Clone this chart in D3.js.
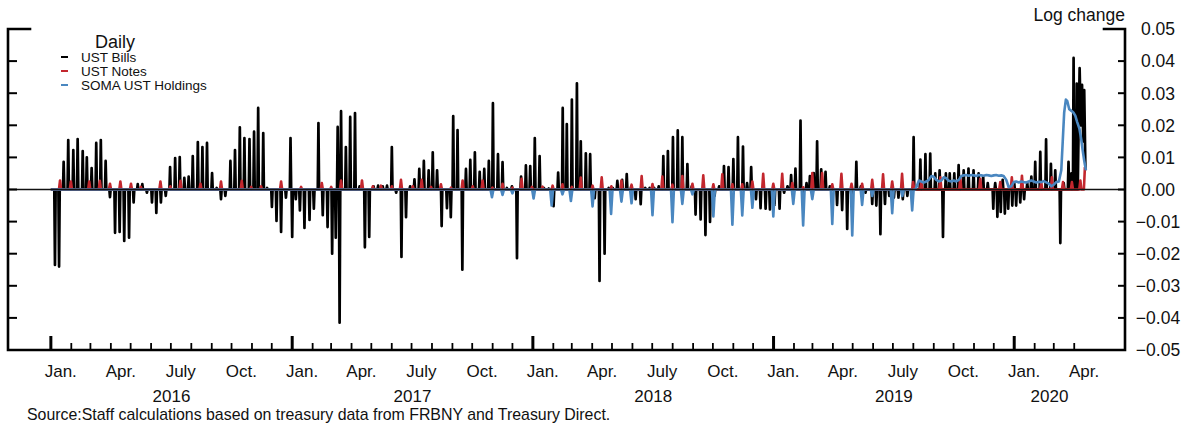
<!DOCTYPE html>
<html>
<head>
<meta charset="utf-8">
<script src="https://cdn.jsdelivr.net/npm/d3@7"></script>
<style>
  html, body { margin: 0; padding: 0; background: #fff; }
  svg { display: block; }
  text { font-family: "Liberation Sans", Arial, sans-serif; fill: #111; }
</style>
</head>
<body>
<svg id="chart" width="1190" height="425"></svg>
<script>
// ---------------- DATA (decimal-year time, daily log change) ----------------
const billsSeries = [
  [2016.017,-0.0235],[2016.034,-0.024],[2016.053,0.0086],[2016.072,0.0154],[2016.093,0.0123],
  [2016.111,0.0157],[2016.132,0.012],[2016.149,0.010],[2016.169,0.0067],[2016.188,0.0145],
  [2016.207,0.0154],[2016.227,0.0089],[2016.245,-0.0024],[2016.266,-0.0135],[2016.285,-0.0132],
  [2016.304,-0.016],[2016.324,-0.015],[2016.343,-0.004],[2016.360,0.0017],[2016.379,0.0017],
  [2016.398,-0.001],[2016.419,-0.004],[2016.437,-0.0073],[2016.456,-0.004],[2016.476,-0.002],
  [2016.494,0.007],[2016.515,0.0098],[2016.534,0.0101],[2016.553,0.0036],[2016.571,0.004],
  [2016.588,0.0104],[2016.609,0.0148],[2016.628,0.0132],[2016.647,0.0145],[2016.668,0.0051],
  [2016.687,0.0005],[2016.705,-0.003],[2016.723,-0.002],[2016.744,0.0089],[2016.763,0.0123],
  [2016.783,0.0194],[2016.802,0.016],[2016.823,0.0157],[2016.842,0.018],[2016.859,0.0254],
  [2016.880,0.0176],[2016.896,0.0005],[2016.916,-0.0054],[2016.935,-0.0098],[2016.954,-0.0132],
  [2016.974,-0.0025],[2016.993,0.016],[2017.000,-0.0148],[2017.015,-0.003],[2017.032,-0.0065],
  [2017.051,-0.012],[2017.072,-0.0095],[2017.090,-0.006],[2017.109,0.0207],[2017.127,-0.008],
  [2017.147,-0.0117],[2017.166,-0.020],[2017.181,-0.015],[2017.189,0.0195],[2017.197,-0.0415],
  [2017.203,0.0244],[2017.223,0.0132],[2017.241,0.0226],[2017.261,0.0238],[2017.280,0.001],
  [2017.302,-0.018],[2017.320,-0.0148],[2017.338,0.001],[2017.357,0.0012],[2017.376,0.001],
  [2017.394,0.0012],[2017.414,0.0132],[2017.432,-0.001],[2017.454,-0.021],[2017.473,-0.0086],
  [2017.490,0.001],[2017.508,0.0032],[2017.528,0.0064],[2017.547,0.0089],[2017.567,0.006],
  [2017.584,0.0116],[2017.602,0.006],[2017.621,-0.0114],[2017.643,-0.0058],[2017.659,-0.0086],
  [2017.669,0.0229],[2017.687,0.0185],[2017.707,-0.025],[2017.722,0.0064],[2017.740,0.0092],
  [2017.759,0.0116],[2017.779,0.0055],[2017.798,0.0064],[2017.817,0.0089],[2017.834,0.0269],
  [2017.855,0.011],[2017.874,0.0085],[2017.892,0.0005],[2017.913,0.001],[2017.934,-0.0214],
  [2017.951,0.004],[2017.971,0.0075],[2017.989,0.0073],[2018.008,0.016],[2018.028,0.0104],
  [2018.046,0.0005],[2018.066,0.0003],[2018.086,-0.0052],[2018.105,0.0053],[2018.124,0.0254],
  [2018.141,0.0204],[2018.162,0.028],[2018.183,0.0331],[2018.199,0.015],[2018.220,0.0113],
  [2018.238,0.011],[2018.257,-0.0027],[2018.277,-0.0285],[2018.298,-0.020],[2018.315,0.0005],
  [2018.332,0.0005],[2018.351,0.0027],[2018.371,0.003],[2018.390,0.0048],[2018.409,0.001],
  [2018.427,-0.003],[2018.448,-0.0046],[2018.467,0.0005],[2018.485,0.0005],[2018.504,0.0005],
  [2018.523,0.001],[2018.542,0.0104],[2018.561,0.012],[2018.582,0.0163],[2018.602,0.0184],
  [2018.621,0.0163],[2018.642,0.0079],[2018.660,0.001],[2018.676,-0.0078],[2018.697,-0.0093],
  [2018.717,-0.0142],[2018.736,-0.0101],[2018.755,-0.002],[2018.774,0.001],[2018.794,0.0073],
  [2018.813,0.007],[2018.833,0.0095],[2018.852,0.0163],[2018.873,0.0134],[2018.890,0.002],
  [2018.907,0.007],[2018.927,-0.003],[2018.946,-0.0058],[2018.967,-0.006],[2018.985,-0.0062],
  [2019.004,-0.0048],[2019.025,-0.006],[2019.044,-0.001],[2019.058,0.001],[2019.073,0.0045],
  [2019.091,0.0065],[2019.112,0.0215],[2019.122,-0.003],[2019.137,0.002],[2019.151,0.0042],
  [2019.167,0.0051],[2019.181,0.015],[2019.198,0.0063],[2019.216,0.0055],[2019.234,0.001],
  [2019.264,-0.0048],[2019.285,-0.0064],[2019.306,-0.0123],[2019.324,-0.002],[2019.344,0.0086],
  [2019.363,0.001],[2019.382,-0.001],[2019.410,-0.0045],[2019.427,-0.005],[2019.444,-0.0139],
  [2019.463,-0.0045],[2019.481,-0.002],[2019.500,-0.0025],[2019.519,-0.0025],[2019.537,-0.003],
  [2019.556,-0.002],[2019.582,0.0163],[2019.610,0.0093],[2019.631,0.011],[2019.651,0.0112],
  [2019.672,0.005],[2019.690,0.006],[2019.704,-0.0148],[2019.716,0.005],[2019.732,0.005],
  [2019.751,0.005],[2019.769,0.0076],[2019.790,0.006],[2019.810,0.0065],[2019.831,0.006],
  [2019.852,0.005],[2019.871,0.004],[2019.890,0.002],[2019.913,-0.006],[2019.921,0.002],
  [2019.930,-0.0085],[2019.944,-0.007],[2019.952,0.003],[2019.961,-0.0075],[2019.975,-0.006],
  [2019.992,-0.005],[2020.000,0.002],[2020.008,-0.005],[2020.025,-0.004],[2020.041,-0.003],
  [2020.054,0.002],[2020.071,0.004],[2020.087,0.0086],[2020.108,0.0117],[2020.132,0.0156],
  [2020.152,0.008],[2020.170,0.006],[2020.191,-0.0167],[2020.205,0.002],[2020.225,0.0086],
  [2020.237,0.005],[2020.246,0.041],[2020.252,0.012],[2020.259,0.033],[2020.266,0.015],
  [2020.271,0.0378],[2020.276,0.02],[2020.281,0.0326],[2020.286,0.015],[2020.290,0.031],
  [2020.295,0.006]
];

const notesSeries = [
  [2016.038,0.0028],[2016.083,0.0025],[2016.159,0.0025],[2016.203,0.0027],[2016.245,0.0018],
  [2016.288,0.0025],[2016.332,0.0018],[2016.373,0.0008],[2016.454,0.0025],[2016.495,0.001],
  [2016.537,0.0027],[2016.620,0.0018],[2016.705,0.0025],[2016.791,0.0027],[2016.830,0.0008],
  [2016.871,0.001],[2016.954,0.0025],[2017.037,0.0008],[2017.123,0.002],[2017.162,0.0008],
  [2017.203,0.0028],[2017.290,0.0028],[2017.335,0.001],[2017.369,0.0012],[2017.414,0.001],
  [2017.452,0.003],[2017.501,0.001],[2017.538,0.003],[2017.577,0.0008],[2017.618,0.0016],
  [2017.660,0.0006],[2017.708,0.0028],[2017.750,0.001],[2017.791,0.0028],[2017.832,0.0006],
  [2017.874,0.0018],[2017.915,0.0006],[2017.953,0.0033],[2017.996,0.0008],[2018.040,0.0009],
  [2018.082,0.0012],[2018.123,0.0016],[2018.162,0.0008],[2018.199,0.0037],[2018.248,0.0012],
  [2018.286,0.0038],[2018.326,0.001],[2018.368,0.0028],[2018.410,0.0015],[2018.452,0.0042],
  [2018.497,0.0017],[2018.538,0.004],[2018.580,0.0015],[2018.621,0.0042],[2018.663,0.0018],
  [2018.708,0.0044],[2018.750,0.0016],[2018.787,0.0047],[2018.829,0.0016],[2018.870,0.0016],
  [2018.912,0.0025],[2018.957,0.0049],[2018.999,0.0018],[2019.036,0.0049],[2019.078,0.002],
  [2019.123,0.0007],[2019.161,0.0051],[2019.202,0.0051],[2019.244,0.0016],[2019.282,0.0049],
  [2019.324,0.0018],[2019.368,0.0018],[2019.410,0.003],[2019.455,0.0047],[2019.493,0.0025],
  [2019.534,0.0049],[2019.580,0.0023],[2019.614,0.0023],[2019.693,0.0038],[2019.776,0.0038],
  [2019.859,0.0033],[2019.942,0.0023],[2019.990,0.0038],[2020.032,0.0043],[2020.112,0.002],
  [2020.156,0.0038],[2020.202,0.0023],[2020.239,0.0023],[2020.274,0.0028],[2020.293,0.007]
];

const somaSeries = [
  [2017.830,-0.0024],[2017.874,-0.0017],[2017.915,-0.0012],[2018.003,-0.0028],[2018.078,-0.005],
  [2018.123,-0.0015],[2018.158,-0.0036],[2018.248,-0.0053],[2018.325,-0.0076],[2018.368,-0.0038],
  [2018.410,-0.0043],[2018.497,-0.008],[2018.580,-0.0102],[2018.621,-0.0045],[2018.663,-0.0015],
  [2018.750,-0.0084],[2018.829,-0.011],[2018.870,-0.0081],[2018.912,-0.0057],[2018.999,-0.0084],
  [2019.082,-0.0045],[2019.123,-0.0112],[2019.161,-0.003],[2019.244,-0.0107],[2019.327,-0.0143],
  [2019.368,-0.0048],[2019.410,-0.002],[2019.493,-0.0074],[2019.535,-0.002],[2019.576,-0.0065],
  [2019.595,0.001],[2019.604,0.0028],[2019.614,0.0025],[2019.624,0.0022],[2019.635,0.0025],
  [2019.645,0.003],[2019.656,0.0042],[2019.666,0.004],[2019.676,0.003],[2019.687,0.0025],
  [2019.697,0.0028],[2019.707,0.0038],[2019.718,0.0035],[2019.728,0.0027],[2019.739,0.0025],
  [2019.749,0.0028],[2019.759,0.0025],[2019.770,0.003],[2019.780,0.0042],[2019.790,0.0044],
  [2019.801,0.0045],[2019.811,0.0043],[2019.822,0.0045],[2019.832,0.0044],[2019.842,0.0042],
  [2019.853,0.0045],[2019.863,0.0044],[2019.873,0.0043],[2019.884,0.0045],[2019.894,0.0044],
  [2019.905,0.0042],[2019.915,0.0044],[2019.925,0.0045],[2019.936,0.0043],[2019.946,0.0044],
  [2019.956,0.0042],[2019.967,0.003],[2019.977,0.0007],[2019.988,0.001],[2019.998,0.0023],
  [2020.008,0.0025],[2020.019,0.0022],[2020.029,0.0025],[2020.039,0.0023],[2020.050,0.0022],
  [2020.060,0.0025],[2020.071,0.0028],[2020.081,0.0025],[2020.091,0.0022],[2020.102,0.0024],
  [2020.112,0.0023],[2020.122,0.0026],[2020.133,0.0022],[2020.143,0.0018],[2020.154,0.001],
  [2020.164,0.0015],[2020.174,0.0023],[2020.185,0.0025],[2020.195,0.006],[2020.201,0.015],
  [2020.207,0.024],[2020.214,0.028],[2020.220,0.0275],[2020.228,0.025],[2020.237,0.0245],
  [2020.245,0.024],[2020.253,0.023],[2020.261,0.021],[2020.270,0.019],[2020.278,0.0155],
  [2020.284,0.012],[2020.290,0.009],[2020.297,0.006]
];

const seriesNames = ["UST Bills", "UST Notes", "SOMA UST Holdings"];
const yTickValues = [0.05, 0.04, 0.03, 0.02, 0.01, 0.00, -0.01, -0.02, -0.03, -0.04, -0.05];
const quarterLabels = ["Jan.", "Apr.", "July", "Oct."];
const yearLabels = ["2016", "2017", "2018", "2019", "2020"];
const seriesStart = 2016.0;
const domainStart = new Date(2015, 9, 28);
const domainEnd = new Date(2020, 5, 17);
const tickStart = new Date(2016, 0, 1);
const tickEnd = new Date(2020, 3, 2);
const dataEnd = new Date(2020, 3, 17);
const titleText = "Log change";
const legendTitle = "Daily";
const sourceText = "Source:Staff calculations based on treasury data from FRBNY and Treasury Direct.";

// ---------------- CHART ----------------
const colors = ["#000000", "#c3272e", "#4a87c0"];
const svg = d3.select("#chart");
const L = 8, R = 1125, T = 29, B = 350;

function toDate(t) {
  const y = Math.floor(t);
  const a = new Date(y, 0, 1), b = new Date(y + 1, 0, 1);
  return new Date(+a + (t - y) * (b - a));
}

const x = d3.scaleTime().domain([domainStart, domainEnd]).range([L, R]);
const y = d3.scaleLinear().domain([-0.05, 0.05]).range([B, T]);

// Build spike-style path points: series is zero between recorded changes
function spikePoints(events, hwDays, startZero) {
  const hw = hwDays / 365;
  const pts = [];
  if (startZero !== undefined) pts.push([startZero, 0]);
  for (let i = 0; i < events.length; i++) {
    const [t, v] = events[i];
    const prev = events[i - 1], next = events[i + 1];
    if (!prev || t - prev[0] > 2 * hw) pts.push([t - hw, 0]);
    pts.push([t, v]);
    if (next && next[0] - t > 2 * hw) pts.push([t + hw, 0]);
  }
  return pts;
}

const line = d3.line()
  .x(d => x(toDate(d[0])))
  .y(d => y(d[1]));

const plot = svg.append("g");
plot.append("path")
  .attr("d", line(spikePoints(billsSeries, 1.0, seriesStart)))
  .attr("fill", "none").attr("stroke", colors[0])
  .attr("stroke-width", 2.7).attr("stroke-linejoin", "round");
plot.append("path")
  .attr("d", line(spikePoints(notesSeries, 1.6, seriesStart)))
  .attr("fill", "none").attr("stroke", colors[1])
  .attr("stroke-width", 2.6).attr("stroke-linejoin", "round");
plot.append("path")
  .attr("d", line(spikePoints(somaSeries, 2.2, seriesStart)))
  .attr("fill", "none").attr("stroke", colors[2])
  .attr("stroke-width", 2.6).attr("stroke-linejoin", "round");

// zero line
svg.append("line")
  .attr("x1", L).attr("x2", R).attr("y1", y(0)).attr("y2", y(0))
  .attr("stroke", "#111").attr("stroke-width", 1.5);

// frame
const frame = svg.append("g").attr("stroke", "#000").attr("fill", "none");
frame.append("path").attr("d", `M${L + 22},${T} H${L} V${B} H${R} V${T} H${R - 21}`)
  .attr("stroke-width", 2.6).attr("stroke-linecap", "square");

// y ticks (both sides, inward)
yTickValues.forEach(v => {
  if (v === 0.05 || v === -0.05) return;
  frame.append("line").attr("x1", L).attr("x2", L + 9).attr("y1", y(v)).attr("y2", y(v)).attr("stroke-width", 2);
  frame.append("line").attr("x1", R - 7).attr("x2", R).attr("y1", y(v)).attr("y2", y(v)).attr("stroke-width", 2);
});
const fmt = v => (v < 0 ? "\u2212" : "") + Math.abs(v).toFixed(2);
svg.append("g").selectAll("text").data(yTickValues).join("text")
  .attr("x", 1158).attr("y", d => y(d)).attr("dy", "0.36em")
  .attr("text-anchor", "middle").attr("font-size", 17.5)
  .text(fmt);
svg.append("text").attr("x", R).attr("y", 21).attr("text-anchor", "end")
  .attr("font-size", 17.5).text(titleText);

// x ticks: monthly minor, yearly major (inward)
const months = d3.timeMonth.range(tickStart, tickEnd);
months.forEach(d => {
  const major = d.getMonth() === 0;
  frame.append("line")
    .attr("x1", x(d)).attr("x2", x(d))
    .attr("y1", B).attr("y2", major ? B - 14 : B - 7)
    .attr("stroke-width", major ? 3 : 1.8);
});
// quarter labels at mid-month
const quarters = months.filter(d => d.getMonth() % 3 === 0);
svg.append("g").selectAll("text").data(quarters).join("text")
  .attr("x", d => x(new Date(d.getFullYear(), d.getMonth(), 16)))
  .attr("y", 377).attr("text-anchor", "middle").attr("font-size", 17)
  .text(d => quarterLabels[d.getMonth() / 3]);
// year labels centered on the year's span of data
svg.append("g").selectAll("text").data(yearLabels).join("text")
  .attr("x", d => {
    const yr = +d;
    const a = new Date(yr, 0, 1);
    const b = yr === 2020 ? dataEnd : new Date(yr + 1, 0, 1);
    return (x(a) + x(b)) / 2;
  })
  .attr("y", 402).attr("text-anchor", "middle").attr("font-size", 17)
  .text(d => d);

// source
svg.append("text").attr("x", 27).attr("y", 420).attr("font-size", 15.9).text(sourceText);

// legend
const lg = svg.append("g");
lg.append("text").attr("x", 115).attr("y", 48).attr("text-anchor", "middle")
  .attr("font-size", 18).text(legendTitle);
seriesNames.forEach((n, i) => {
  const yy = 57 + i * 14;
  lg.append("line").attr("x1", 61).attr("x2", 68).attr("y1", yy).attr("y2", yy)
    .attr("stroke", colors[i]).attr("stroke-width", 2);
  lg.append("text").attr("x", 81).attr("y", yy + 5).attr("font-size", 13.5).text(n);
});
</script>
</body>
</html>
